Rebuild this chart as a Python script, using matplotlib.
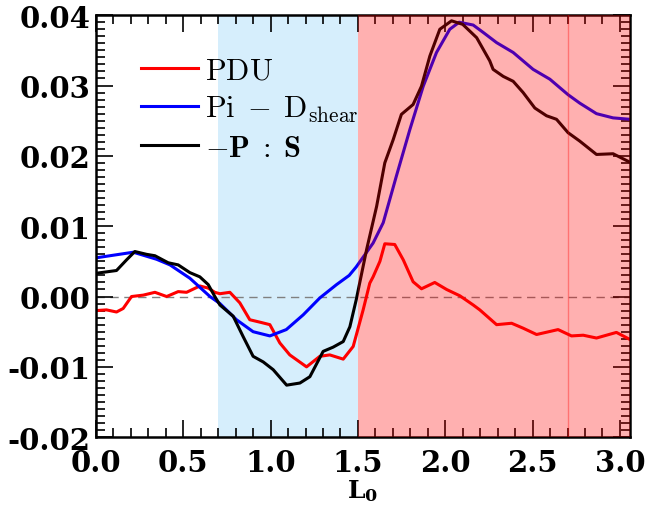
import numpy as np
import matplotlib
matplotlib.use('Agg')
import matplotlib.pyplot as plt
from matplotlib.ticker import MultipleLocator, FormatStrFormatter

# curves (L0, value)
L_pdu = [0.0, 0.061, 0.118, 0.156, 0.204, 0.271, 0.338, 0.405, 0.471, 0.519, 0.595, 0.643, 0.681,
         0.71, 0.767, 0.824, 0.881, 0.948, 0.996, 1.053, 1.11, 1.206, 1.282, 1.339, 1.416, 1.473,
         1.53, 1.568, 1.587, 1.626, 1.654, 1.711, 1.76, 1.816, 1.864, 1.94, 2.008, 2.084, 2.16,
         2.198, 2.294, 2.38, 2.446, 2.523, 2.646, 2.723, 2.79, 2.866, 2.98, 3.057]
pdu = [-0.0020, -0.0019, -0.0022, -0.0017, 0.0000, 0.0002, 0.0006, 0.0000, 0.0007, 0.0006, 0.0015,
       0.0012, 0.0006, 0.0004, 0.0006, -0.0009, -0.0033, -0.0037, -0.0040, -0.0066, -0.0083,
       -0.0100, -0.0085, -0.0083, -0.0089, -0.0071, -0.0019, 0.0019, 0.0028, 0.0050, 0.0075,
       0.0074, 0.0052, 0.0021, 0.0011, 0.0020, 0.0010, 0.0001, -0.0012, -0.0019, -0.0040, -0.0038,
       -0.0045, -0.0054, -0.0047, -0.0056, -0.0055, -0.0059, -0.0051, -0.0061]

L_pid = [0.0, 0.214, 0.347, 0.424, 0.538, 0.653, 0.71, 0.805, 0.90, 0.996, 1.09, 1.187, 1.282,
         1.378, 1.45, 1.49, 1.587, 1.645, 1.72, 1.797, 1.874, 1.95, 2.026, 2.08, 2.16, 2.22,
         2.294, 2.389, 2.503, 2.599, 2.703, 2.77, 2.866, 2.961, 3.057]
pid = [0.0055, 0.0063, 0.0053, 0.0045, 0.0026, 0.0000, -0.0010, -0.0033, -0.0050, -0.0056,
       -0.0047, -0.0026, -0.0002, 0.0017, 0.0030, 0.0042, 0.0076, 0.0105, 0.0171, 0.0237, 0.0299,
       0.0347, 0.0380, 0.0390, 0.0386, 0.0375, 0.0361, 0.0347, 0.0323, 0.0309, 0.0287, 0.0275,
       0.0260, 0.0254, 0.0252]

L_ps = [0.0, 0.118, 0.175, 0.223, 0.29, 0.338, 0.414, 0.471, 0.538, 0.595, 0.643, 0.681, 0.71,
        0.786, 0.843, 0.90, 0.958, 1.015, 1.092, 1.168, 1.225, 1.301, 1.358, 1.416, 1.454, 1.49,
        1.55, 1.607, 1.654, 1.702, 1.749, 1.816, 1.864, 1.912, 1.969, 2.036, 2.10, 2.18, 2.255,
        2.274, 2.332, 2.389, 2.446, 2.513, 2.58, 2.637, 2.703, 2.77, 2.866, 2.961, 3.057]
ps = [0.0033, 0.0037, 0.0052, 0.0064, 0.0060, 0.0058, 0.0048, 0.0045, 0.0034, 0.0028, 0.0017,
      0.0000, -0.0012, -0.0028, -0.0057, -0.0085, -0.0093, -0.0104, -0.0126, -0.0123, -0.0114,
      -0.0078, -0.0072, -0.0064, -0.0043, -0.0005, 0.0067, 0.0128, 0.0190, 0.0223, 0.0259, 0.0273,
      0.0299, 0.0342, 0.0380, 0.0392, 0.0387, 0.0368, 0.0335, 0.0323, 0.0313, 0.0306, 0.0290,
      0.0268, 0.0257, 0.0252, 0.0233, 0.0221, 0.0202, 0.0203, 0.0191]

labels = [r'$\mathrm{PDU}$', r'$\mathrm{Pi}\;-\;\mathrm{D_{shear}}$', r'$-\mathbf{P}\;:\;\mathbf{S}$']

fig = plt.figure(figsize=(6.48, 5.06), dpi=100)
ax = fig.add_axes([0.148, 0.134, 0.824, 0.834])

ax.axvspan(0.7, 1.5, color='#d6eefc', zorder=0, lw=0)
ax.axhline(0, color='gray', ls='--', lw=1, dashes=(6, 4), zorder=1)
ax.plot(L_pdu, pdu, color='red', lw=2.2, label=labels[0])
ax.plot(L_pid, pid, color='blue', lw=2.2, label=labels[1])
ax.plot(L_ps, ps, color='black', lw=2.2, label=labels[2])
ax.axvspan(1.5, 3.2, color='red', alpha=0.31, zorder=3, lw=0)
ax.axvline(2.7, color='red', alpha=0.35, lw=1, zorder=3)

ax.set_xlim(0, 3.057)
ax.set_ylim(-0.02, 0.04)
ax.xaxis.set_major_locator(MultipleLocator(0.5))
ax.xaxis.set_minor_locator(MultipleLocator(0.1))
ax.yaxis.set_major_locator(MultipleLocator(0.01))
ax.yaxis.set_minor_locator(MultipleLocator(0.001))
ax.xaxis.set_major_formatter(FormatStrFormatter('%.1f'))
ax.yaxis.set_major_formatter(FormatStrFormatter('%.2f'))
ax.tick_params(which='both', direction='in', top=True, right=True, width=1.2)
ax.tick_params(which='major', length=12)
ax.tick_params(axis='x', which='major', pad=8)
ax.tick_params(axis='y', which='major', pad=4)
ax.tick_params(which='minor', length=6.5)
for s in ax.spines.values():
    s.set_linewidth(1.8)
for lab in ax.get_xticklabels():
    lab.set_fontfamily('DejaVu Serif')
    lab.set_fontweight('bold')
    lab.set_fontsize(21)
for lab in ax.get_yticklabels():
    lab.set_fontfamily('DejaVu Serif')
    lab.set_fontweight('bold')
    lab.set_fontsize(21)

ax.set_xlabel(r'$\mathbf{L_0}$', fontsize=18, math_fontfamily='dejavuserif', labelpad=0)

leg = ax.legend(loc='upper left', bbox_to_anchor=(0.085, 0.905), frameon=False,
                borderpad=0, borderaxespad=0,
                handlelength=1.85, handletextpad=0.25, labelspacing=0.3,
                prop={'size': 22, 'math_fontfamily': 'cm'})
leg.set_zorder(10)

fig.savefig('out.png', dpi=100)
